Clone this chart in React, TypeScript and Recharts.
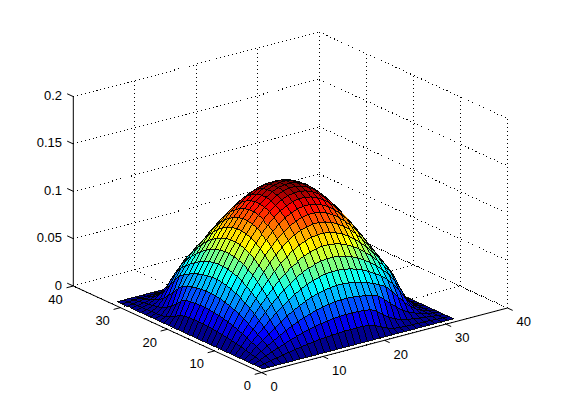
import React from 'react';
import { ScatterChart, Scatter, XAxis, YAxis, ReferenceLine } from 'recharts';

const xTicks = [0, 10, 20, 30, 40];
const yTicks = [0, 10, 20, 30, 40];
const zTicks = [0, 0.05, 0.1, 0.15, 0.2];
const zTickLabels = ['0', '0.05', '0.1', '0.15', '0.2'];

// front corner (x, y = 1..16); the far corner mirrors it
const frontQuarter = [
  [0, 0, 0, 0, 0, 0, 0, 0, 0, 0, 0, 0, 0, 0, 0, 0],
  [0, 14, 28, 41, 54, 66, 78, 89, 99, 108, 116, 123, 128, 132, 135, 136],
  [0, 28, 55, 81, 107, 132, 155, 177, 197, 215, 231, 244, 255, 263, 269, 271],
  [0, 41, 81, 121, 159, 196, 231, 263, 293, 320, 343, 363, 379, 391, 400, 404],
  [0, 54, 107, 159, 210, 258, 304, 347, 386, 421, 452, 478, 499, 515, 526, 532],
  [0, 66, 132, 196, 258, 318, 374, 427, 475, 518, 556, 588, 614, 634, 648, 654],
  [0, 78, 155, 231, 304, 374, 441, 502, 559, 610, 655, 693, 723, 747, 762, 770],
  [0, 89, 177, 263, 347, 427, 502, 573, 637, 695, 746, 790, 825, 851, 869, 878],
  [0, 99, 197, 293, 386, 475, 559, 637, 709, 774, 830, 879, 918, 947, 967, 977],
  [0, 108, 215, 320, 421, 518, 610, 695, 774, 844, 906, 959, 1001, 1034, 1055, 1066],
  [0, 116, 231, 343, 452, 556, 655, 746, 830, 906, 972, 1029, 1074, 1109, 1132, 1144],
  [0, 123, 244, 363, 478, 588, 693, 790, 879, 959, 1029, 1088, 1137, 1173, 1198, 1210],
  [0, 128, 255, 379, 499, 614, 723, 825, 918, 1001, 1074, 1137, 1187, 1226, 1251, 1264],
  [0, 132, 263, 391, 515, 634, 747, 851, 947, 1034, 1109, 1173, 1226, 1265, 1292, 1305],
  [0, 135, 269, 400, 526, 648, 762, 869, 967, 1055, 1132, 1198, 1251, 1292, 1319, 1333],
  [0, 136, 271, 404, 532, 654, 770, 878, 977, 1066, 1144, 1210, 1264, 1305, 1333, 1347]
];

// left and right corners, where the base stays flatter
const sideQuarter = [
  [0, 0, 0, 0, 0, 0, 0, 0, 0, 0, 0, 0, 0, 0, 0, 0],
  [0, 3, 6, 10, 12, 14, 16, 18, 22, 30, 50, 80, 110, 128, 135, 136],
  [0, 6, 15, 22, 30, 40, 50, 65, 90, 125, 170, 225, 255, 263, 269, 271],
  [0, 10, 22, 40, 60, 85, 125, 175, 230, 290, 343, 363, 379, 391, 400, 404],
  [0, 12, 30, 60, 110, 170, 245, 320, 386, 421, 452, 478, 499, 515, 526, 532],
  [0, 14, 40, 85, 170, 270, 350, 427, 475, 518, 556, 588, 614, 634, 648, 654],
  [0, 16, 50, 125, 245, 350, 441, 502, 559, 610, 655, 693, 723, 747, 762, 770],
  [0, 18, 65, 175, 320, 427, 502, 573, 637, 695, 746, 790, 825, 851, 869, 878],
  [0, 22, 90, 230, 386, 475, 559, 637, 709, 774, 830, 879, 918, 947, 967, 977],
  [0, 30, 125, 290, 421, 518, 610, 695, 774, 844, 906, 959, 1001, 1034, 1055, 1066],
  [0, 50, 170, 343, 452, 556, 655, 746, 830, 906, 972, 1029, 1074, 1109, 1132, 1144],
  [0, 80, 225, 363, 478, 588, 693, 790, 879, 959, 1029, 1088, 1137, 1173, 1198, 1210],
  [0, 110, 255, 379, 499, 614, 723, 825, 918, 1001, 1074, 1137, 1187, 1226, 1251, 1264],
  [0, 128, 263, 391, 515, 634, 747, 851, 947, 1034, 1109, 1173, 1226, 1265, 1292, 1305],
  [0, 135, 269, 400, 526, 648, 762, 869, 967, 1055, 1132, 1198, 1251, 1292, 1319, 1333],
  [0, 136, 271, 404, 532, 654, 770, 878, 977, 1066, 1144, 1210, 1264, 1305, 1333, 1347]
];

const reversed = (row: number[]) => [...row].reverse();
const surface = [
  ...frontQuarter.map((row, k) => [...row, ...reversed(sideQuarter[k])]),
  ...reversed(frontQuarter.map((_, k) => k) as any).map((k: number) => [...sideQuarter[k], ...reversed(frontQuarter[k])])
].map(row => row.map(v => v / 10000));

// view of the box (az -37.5, el 30), orthographic
const project = (x: number, y: number, z: number) => ({
  sx: 261.5 + 6.15 * x - 4.705 * y,
  sy: 372.6 - 1.615 * x - 2.165 * y - 947 * z
});

const jet = (z: number, zMax: number) => {
  const idx = Math.min(63, Math.floor((z / zMax) * 64));
  const t = (idx + 1) / 64;
  const c = (v: number) => Math.round(255 * Math.max(0, Math.min(1, 1.5 - Math.abs(4 * t - v))));
  return `rgb(${c(3)},${c(2)},${c(1)})`;
};

const zMax = 0.1347;
const cornerPoints: { sx: number; sy: number }[] = [];
const facetFills: string[] = [];
// back to front, so nearer facets paint over the farther ones
for (let i = surface.length - 2; i >= 0; i--) {
  for (let j = surface.length - 2; j >= 0; j--) {
    cornerPoints.push(
      project(i + 1, j + 1, surface[i][j]),
      project(i + 2, j + 1, surface[i + 1][j]),
      project(i + 2, j + 2, surface[i + 1][j + 1]),
      project(i + 1, j + 2, surface[i][j + 1])
    );
    facetFills.push(jet(surface[i][j], zMax));
  }
}

const renderFacets = ({ points }: any) => (
  <g>
    {facetFills.map((fill, k) => (
      <polygon
        key={k}
        points={points.slice(k * 4, k * 4 + 4).map((p: any) => `${p.x},${p.y}`).join(' ')}
        fill={fill}
        stroke="#000"
        strokeWidth={0.9}
        shapeRendering="crispEdges"
      />
    ))}
  </g>
);

const seg = (a: number[], b: number[]) => {
  const p = project(a[0], a[1], a[2]);
  const q = project(b[0], b[1], b[2]);
  return [{ x: p.sx, y: p.sy }, { x: q.sx, y: q.sy }] as any;
};

const dotted: any[] = [];
zTicks.forEach(z => {
  dotted.push(seg([0, 40, z], [40, 40, z]), seg([40, 40, z], [40, 0, z]));
});
xTicks.forEach(x => {
  if (x > 0) dotted.push(seg([x, 40, 0], [x, 40, 0.2]));
  dotted.push(seg([x, 0, 0], [x, 40, 0]));
});
yTicks.forEach(y => {
  if (y < 40) dotted.push(seg([40, y, 0], [40, y, 0.2]));
  dotted.push(seg([0, y, 0], [40, y, 0]));
});

const solid: any[] = [
  seg([0, 0, 0], [40, 0, 0]),
  seg([0, 0, 0], [0, 40, 0]),
  seg([0, 40, 0], [0, 40, 0.2])
];
xTicks.forEach(x => solid.push(seg([x, 0, 0], [x, -1.1, 0])));
yTicks.forEach(y => solid.push(seg([0, y, 0], [-1.1, y, 0])));
zTicks.forEach(z => solid.push(seg([0, 40, z], [0, 41.3, z])));

const labels: any[] = [
  ...xTicks.map(x => {
    const p = project(x, 0, 0);
    return { sx: p.sx + 9, sy: p.sy + 13.7, text: String(x), anchor: 'start' };
  }),
  ...yTicks.map(y => {
    const p = project(0, y, 0);
    return { sx: p.sx - 10.5, sy: p.sy + 13, text: String(y), anchor: 'end' };
  }),
  ...zTicks.map((z, k) => {
    const p = project(0, 40, z);
    return { sx: p.sx - 11.3, sy: p.sy - 1, text: zTickLabels[k], anchor: 'end' };
  })
];

const NoPoint = () => null;

const TickText = ({ cx, cy, payload }: any) => (
  <text
    x={cx}
    y={cy}
    textAnchor={payload.anchor}
    dominantBaseline="central"
    fontFamily="Liberation Sans"
    fontSize={13}
    fill="#000"
  >
    {payload.text}
  </text>
);

export default function App() {
  return (
    <div style={{ position: 'absolute', left: 0, top: 0, width: 561, height: 420, background: '#fff' }}>
      <ScatterChart width={561} height={420} margin={{ top: 0, right: 0, bottom: 0, left: 0 }}>
        <XAxis type="number" dataKey="sx" domain={[0, 561]} hide />
        <YAxis type="number" dataKey="sy" domain={[0, 420]} reversed hide />
        {dotted.map((s, k) => (
          <ReferenceLine key={`d${k}`} segment={s} stroke="#000" strokeWidth={1} strokeDasharray="1 3" shapeRendering="crispEdges" />
        ))}
        {solid.map((s, k) => (
          <ReferenceLine key={`s${k}`} segment={s} stroke="#000" strokeWidth={1} />
        ))}
        <Scatter data={cornerPoints} shape={NoPoint} line={renderFacets} isAnimationActive={false} />
        <Scatter data={labels} shape={TickText} isAnimationActive={false} />
      </ScatterChart>
    </div>
  );
}
